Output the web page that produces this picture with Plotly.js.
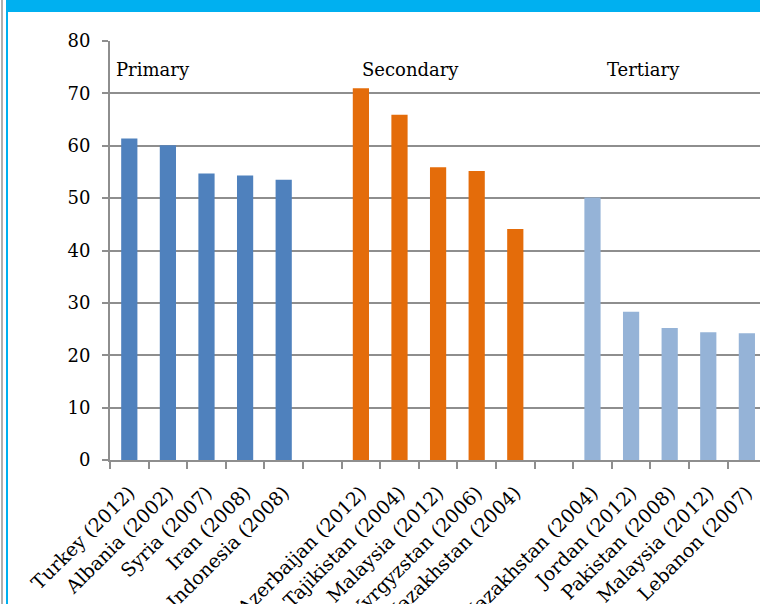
<!DOCTYPE html>
<html>
<head>
<meta charset="utf-8">
<script src="https://cdn.plot.ly/plotly-3.0.1.min.js"></script>
<style>
  html, body { margin: 0; padding: 0; background: #fff; overflow: hidden; }
  #wrap { position: relative; width: 760px; height: 604px; }
  #chart { position: absolute; left: 0; top: 0; width: 760px; height: 604px; }
  .deco { position: absolute; pointer-events: none; }
</style>
</head>
<body>
<div id="wrap">
  <div id="chart"></div>
  <div class="deco" style="left:1px;top:0;width:2px;height:604px;background:#b0b0b0;"></div>
  <div class="deco" style="left:6px;top:0;width:2px;height:604px;background:#00b0f0;"></div>
  <div class="deco" style="left:6px;top:0;width:754px;height:12px;background:#00b0f0;"></div>
</div>
<script>
// Data
const primaryLabels = ["Turkey (2012)", "Albania (2002)", "Syria (2007)", "Iran (2008)", "Indonesia (2008)"];
const primaryValues = [61.4, 60.1, 54.7, 54.3, 53.5];
const secondaryLabels = ["Azerbaijan (2012)", "Tajikistan (2004)", "Malaysia (2012)", "Kyrgyzstan (2006)", "Kazakhstan (2004)"];
const secondaryValues = [71.0, 65.9, 55.9, 55.2, 44.1];
const tertiaryLabels = ["Kazakhstan (2004)", "Jordan (2012)", "Pakistan (2008)", "Malaysia (2012)", "Lebanon (2007)"];
const tertiaryValues = [50.1, 28.3, 25.2, 24.4, 24.2];
const groupNames = ["Primary", "Secondary", "Tertiary"];
const yTicks = [0, 10, 20, 30, 40, 50, 60, 70, 80];

const groups = [
  {labels: primaryLabels, values: primaryValues, color: "#4f81bd"},
  {labels: secondaryLabels, values: secondaryValues, color: "#e46c0a"},
  {labels: tertiaryLabels, values: tertiaryValues, color: "#95b3d7"}
];

const traces = [];
const tickvals = [];
const ticktext = [];
groups.forEach((g, gi) => {
  const start = gi * (g.labels.length + 1);
  const xs = g.labels.map((_, i) => start + i);
  xs.forEach((x, i) => { tickvals.push(x); ticktext.push(g.labels[i]); });
  traces.push({
    type: "bar",
    x: xs,
    y: g.values,
    marker: {color: g.color, line: {width: 0}},
    width: 0.42,
    hoverinfo: "skip",
    showlegend: false
  });
});

const serif = "DejaVu Serif";
const gray = "#8e8e8e";

const annotations = groupNames.map((name) => ({
  x: 0,
  y: 74.5,
  xref: "x",
  yref: "y",
  text: name,
  showarrow: false,
  xanchor: "left",
  yanchor: "middle",
  font: {family: serif, size: 18, color: "#000"}
}));
annotations[0].x = -0.39;
annotations[1].x = 5.97;
annotations[2].x = 12.33;

const layout = {
  width: 760,
  height: 604,
  margin: {l: 110, r: 0, t: 41, b: 144, pad: 0},
  paper_bgcolor: "rgba(0,0,0,0)",
  plot_bgcolor: "rgba(0,0,0,0)",
  barmode: "overlay",
  xaxis: {
    range: [-0.5, 16.34],
    tickmode: "array",
    tickvals: tickvals,
    ticktext: ticktext,
    tickangle: -45,
    ticks: "",
    ticklabelstandoff: 12,
    showgrid: false,
    zeroline: false,
    showline: true,
    linecolor: gray,
    linewidth: 2,
    tickfont: {family: serif, size: 19, color: "#000"},
    minor: {
      tickmode: "linear",
      tick0: -0.5,
      dtick: 1,
      ticks: "outside",
      ticklen: 7,
      tickwidth: 2,
      tickcolor: gray,
      showgrid: false
    },
    fixedrange: true
  },
  yaxis: {
    range: [0, 80],
    tickmode: "array",
    tickvals: yTicks,
    ticktext: yTicks.map(String),
    ticks: "outside",
    ticklen: 6,
    tickwidth: 2,
    tickcolor: gray,
    ticklabelstandoff: 8,
    showgrid: true,
    gridcolor: gray,
    gridwidth: 2,
    zeroline: false,
    showline: true,
    linecolor: gray,
    linewidth: 2,
    tickfont: {family: serif, size: 18, color: "#000"},
    fixedrange: true
  },
  annotations: annotations
};

Plotly.newPlot("chart", traces, layout, {displayModeBar: false, staticPlot: true});
</script>
</body>
</html>
